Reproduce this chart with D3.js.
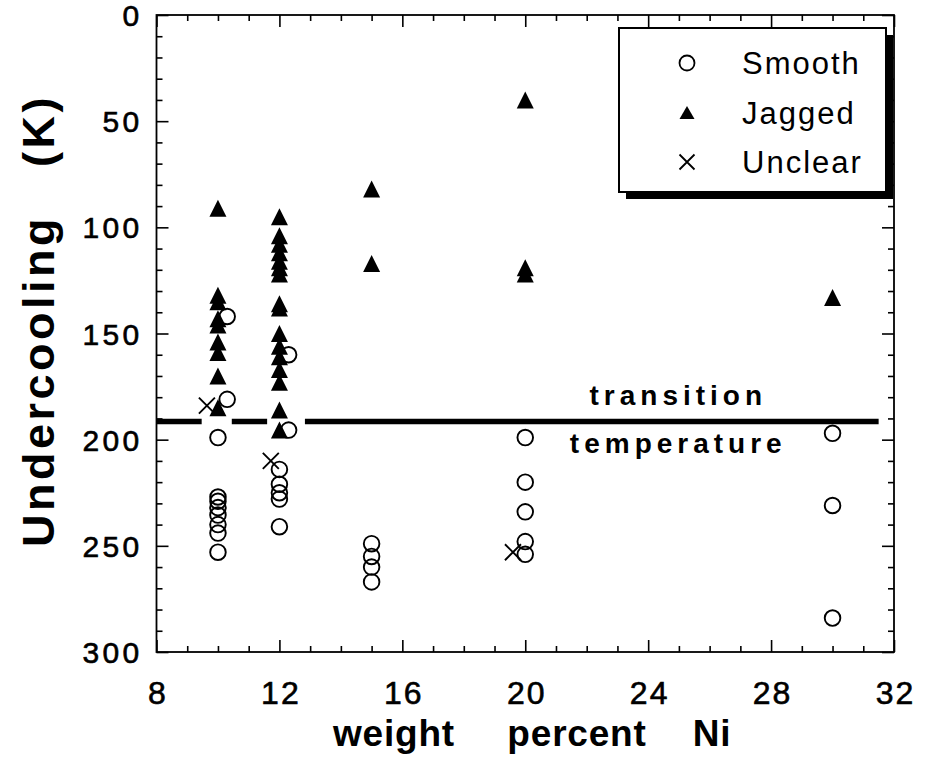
<!DOCTYPE html>
<html>
<head>
<meta charset="utf-8">
<script src="https://cdn.jsdelivr.net/npm/d3@7"></script>
<style>
  body { margin: 0; background: #fff; }
  svg { display: block; }
  text { font-family: "Liberation Sans", Arial, Helvetica, sans-serif; fill: #000; }
</style>
</head>
<body>
<svg id="chart" width="928" height="772"></svg>
<script>
// Undercooling (K) versus composition (wt% Ni), by solidification morphology
const smoothPoints = [
  [10.3, 142], [10.3, 181], [10, 199],
  [10, 227], [10, 229], [10, 232], [10, 235.5], [10, 240], [10, 244], [10, 253],
  [12.3, 160], [12.3, 195.5],
  [12, 214], [12, 221], [12, 225], [12, 228], [12, 241],
  [15, 249], [15, 255], [15, 260], [15, 267],
  [20, 199], [20, 220], [20, 234], [20, 248], [20, 254],
  [30, 197], [30, 231], [30, 284]
];
const jaggedPoints = [
  [10, 91], [10, 132], [10, 135], [10, 143], [10, 146], [10, 154], [10, 159], [10, 170], [10, 185],
  [12, 95], [12, 104], [12, 108], [12, 112], [12, 116], [12, 119], [12, 122],
  [12, 136], [12, 138], [12, 150], [12, 156], [12, 161], [12, 167], [12, 173],
  [12, 186], [12, 195.5],
  [15, 82], [15, 117],
  [20, 40], [20, 119], [20, 122],
  [30, 133]
];
const unclearPoints = [[9.64, 184], [11.72, 210], [19.6, 253]];

// transition temperature line, broken where the marker columns cross it
const transitionK = 191.5;
const transitionSegments = [[8, 9.47], [10.45, 11.6], [12.83, 31.5]];

const xMajorTicks = [8, 12, 16, 20, 24, 28, 32];
const xMinorTicks = d3.range(8, 33, 1).filter(v => v % 4 !== 0);
const yMajorTicks = [0, 50, 100, 150, 200, 250, 300];
const yMinorTicks = d3.range(0, 301, 10).filter(v => v % 50 !== 0);

const legendItems = [
  { label: "Smooth", type: "circle" },
  { label: "Jagged", type: "triangle" },
  { label: "Unclear", type: "cross" }
];

const svg = d3.select("#chart");
const plotLeft = 156.5, plotRight = 894, plotTop = 15, plotBottom = 652;

const x = d3.scaleLinear().domain([8, 32]).range([plotLeft, plotRight]);
const y = d3.scaleLinear().domain([0, 300]).range([plotTop, plotBottom]);

// ---- frame and ticks (ticks point inward on all four sides) ----
const axes = svg.append("g");
function tickAxis(axisFn, scale, values, size, transform, format, padding) {
  const a = axisFn(scale).tickValues(values).tickSizeInner(-size).tickSizeOuter(0);
  if (format) a.tickFormat(format).tickPadding(padding); else a.tickFormat("");
  const g = axes.append("g").attr("transform", transform).call(a);
  g.select(".domain").remove();
  g.selectAll(".tick line").attr("stroke", "#000").attr("stroke-width", 1.6);
  g.attr("font-family", null).attr("font-size", null);
  return g;
}
// bottom
const xb = tickAxis(d3.axisBottom, x, xMajorTicks, 12, `translate(0,${plotBottom})`, d3.format("d"), 29);
xb.selectAll(".tick text")
  .attr("font-size", 32).attr("letter-spacing", 2).attr("dx", 1)
  .attr("fill", "#000").attr("stroke", "#000").attr("stroke-width", 0.6);
tickAxis(d3.axisBottom, x, xMinorTicks, 6, `translate(0,${plotBottom})`);
// top
tickAxis(d3.axisTop, x, xMajorTicks, 12, `translate(0,${plotTop})`);
tickAxis(d3.axisTop, x, xMinorTicks, 6, `translate(0,${plotTop})`);
// left
const yl = tickAxis(d3.axisLeft, y, yMajorTicks, 12, `translate(${plotLeft},0)`, d3.format("d"), 14);
yl.selectAll(".tick text")
  .attr("font-size", 30).attr("letter-spacing", 3.3).attr("dy", "0.35em")
  .attr("fill", "#000").attr("stroke", "#000").attr("stroke-width", 0.6);
tickAxis(d3.axisLeft, y, yMinorTicks, 6, `translate(${plotLeft},0)`);
// right
tickAxis(d3.axisRight, y, yMajorTicks, 12, `translate(${plotRight},0)`);
tickAxis(d3.axisRight, y, yMinorTicks, 6, `translate(${plotRight},0)`);

axes.append("rect")
  .attr("x", plotLeft).attr("y", plotTop)
  .attr("width", plotRight - plotLeft).attr("height", plotBottom - plotTop)
  .attr("fill", "none").attr("stroke", "#000").attr("stroke-width", 1.8);

// ---- transition temperature line and its label ----
const plot = svg.append("g");
plot.selectAll("line.transition")
  .data(transitionSegments)
  .join("line")
  .attr("class", "transition")
  .attr("x1", d => x(d[0])).attr("x2", d => x(d[1]))
  .attr("y1", y(transitionK)).attr("y2", y(transitionK))
  .attr("stroke", "#000").attr("stroke-width", 5.5);

const tempLabel = plot.append("g")
  .attr("font-size", 28).attr("font-weight", "bold").attr("letter-spacing", 5)
  .attr("text-anchor", "middle");
tempLabel.append("text").attr("x", x(24.98)).attr("y", y(transitionK) - 17).text("transition");
tempLabel.append("text").attr("x", x(24.98)).attr("y", y(transitionK) + 31).text("temperature");

// ---- markers ----
const triW = 17, triH = 17;
function trianglePath(w, h) {
  return `M0,${-h / 2}L${w / 2},${h / 2}L${-w / 2},${h / 2}Z`;
}
function crossPath(s) {
  const r = s / 2;
  return `M${-r},${-r}L${r},${r}M${-r},${r}L${r},${-r}`;
}

plot.selectAll("path.jagged")
  .data(jaggedPoints)
  .join("path")
  .attr("class", "jagged")
  .attr("transform", d => `translate(${x(d[0])},${y(d[1])})`)
  .attr("d", trianglePath(triW, triH))
  .attr("fill", "#000");

plot.selectAll("circle.smooth")
  .data(smoothPoints)
  .join("circle")
  .attr("class", "smooth")
  .attr("cx", d => x(d[0])).attr("cy", d => y(d[1]))
  .attr("r", 7.8)
  .attr("fill", "none").attr("stroke", "#000").attr("stroke-width", 1.9);

plot.selectAll("path.unclear")
  .data(unclearPoints)
  .join("path")
  .attr("class", "unclear")
  .attr("transform", d => `translate(${x(d[0])},${y(d[1])})`)
  .attr("d", crossPath(16))
  .attr("fill", "none").attr("stroke", "#000").attr("stroke-width", 1.9);

// ---- legend with drop shadow ----
const lg = svg.append("g").attr("transform", "translate(619,28)");
const lgW = 267, lgH = 164;
lg.append("rect").attr("x", 7).attr("y", 7).attr("width", lgW).attr("height", lgH).attr("fill", "#000");
lg.append("rect").attr("x", 0).attr("y", 0).attr("width", lgW).attr("height", lgH)
  .attr("fill", "#fff").attr("stroke", "#000").attr("stroke-width", 2);

const rowY = d3.scalePoint().domain(legendItems.map(d => d.label)).range([35, 134]);
const rows = lg.selectAll("g.row").data(legendItems).join("g")
  .attr("class", "row")
  .attr("transform", d => `translate(0,${rowY(d.label)})`);
rows.each(function (d) {
  const g = d3.select(this);
  if (d.type === "circle") {
    g.append("circle").attr("cx", 68).attr("cy", 0).attr("r", 7.5)
      .attr("fill", "none").attr("stroke", "#000").attr("stroke-width", 1.8);
  } else if (d.type === "triangle") {
    g.append("path").attr("transform", "translate(68,0)").attr("d", trianglePath(15, 13)).attr("fill", "#000");
  } else {
    g.append("path").attr("transform", "translate(68,0)").attr("d", crossPath(15))
      .attr("fill", "none").attr("stroke", "#000").attr("stroke-width", 1.8);
  }
  g.append("text").attr("x", 123).attr("y", 11)
    .attr("font-size", 31).attr("letter-spacing", 2).text(d.label);
});

// ---- axis titles ----
const xTitle = svg.append("text")
  .attr("y", 746).attr("font-size", 37).attr("font-weight", "bold")
  .attr("letter-spacing", 0.8).attr("text-anchor", "middle");
xTitle.append("tspan").attr("x", 394).text("weight");
xTitle.append("tspan").attr("x", 577).text("percent");
xTitle.append("tspan").attr("x", 712).text("Ni");

const yTitle = svg.append("text")
  .attr("transform", "translate(54,547) rotate(-90)")
  .attr("font-size", 45).attr("font-weight", "bold").attr("letter-spacing", 3.5);
yTitle.append("tspan").attr("x", 0).text("Undercooling");
yTitle.append("tspan").attr("x", 380).text("(K)");
</script>
</body>
</html>
